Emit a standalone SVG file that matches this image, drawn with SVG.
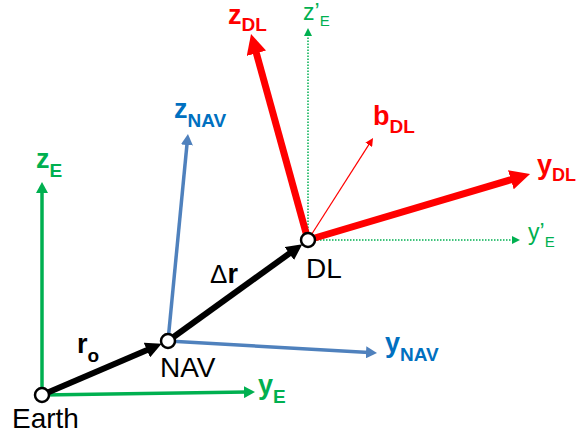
<svg xmlns="http://www.w3.org/2000/svg" width="578" height="438" viewBox="0 0 578 438">
<style>
text{font-family:"Liberation Sans",Arial,sans-serif}
.lbl{font-size:28px;fill:#000}
.b{font-weight:bold;font-size:27px}
.sub{font-weight:bold;font-size:19px}
.g{fill:#00B050}
.bl{fill:#0070C0}
.r{fill:#FF0000}
.axg{stroke:#00B050;stroke-width:3.5;fill:none}
.axb{stroke:#4F81BD;stroke-width:3.5;fill:none}
.axr{stroke:#FF0000;stroke-width:7;fill:none}
.thr{stroke:#FF0000;stroke-width:1.2;fill:none}
.dot{stroke:#00B050;stroke-width:1.5;stroke-dasharray:1.5 1.5;fill:none}
.vec{stroke:#000;stroke-width:6;fill:none}
.node{fill:#fff;stroke:#000;stroke-width:2.5}
</style>
<defs>
<marker id="mg" markerUnits="userSpaceOnUse" markerWidth="12" markerHeight="12" refX="3" refY="6" orient="auto"><path d="M0,0 L11,6 L0,12 z" fill="#00B050"/></marker>
<marker id="mb" markerUnits="userSpaceOnUse" markerWidth="12" markerHeight="12" refX="3" refY="6" orient="auto"><path d="M0,0 L11,6 L0,12 z" fill="#4F81BD"/></marker>
<marker id="mk" markerUnits="userSpaceOnUse" markerWidth="17" markerHeight="16" refX="6" refY="8" orient="auto"><path d="M0,0 L16,8 L0,16 z" fill="#000"/></marker>
<marker id="mr" markerUnits="userSpaceOnUse" markerWidth="21" markerHeight="20" refX="4" refY="10" orient="auto"><path d="M0,0 L20,10 L0,20 z" fill="#FF0000"/></marker>
<marker id="mrt" markerUnits="userSpaceOnUse" markerWidth="9" markerHeight="8" refX="2" refY="4" orient="auto"><path d="M0,0 L8,4 L0,8 z" fill="#FF0000"/></marker>
<marker id="mgd" markerUnits="userSpaceOnUse" markerWidth="9" markerHeight="8" refX="2" refY="4" orient="auto"><path d="M0,0 L8,4 L0,8 z" fill="#00B050"/></marker>
</defs>
<g id="connectors">
<path class="dot" d="M308,240 L308,34" marker-end="url(#mgd)"/>
<path class="dot" d="M308,240 L514,240" marker-end="url(#mgd)"/>
<path class="axg" d="M42,395 L42,190" marker-end="url(#mg)"/>
<path class="axg" d="M42,395 L247,392.1" marker-end="url(#mg)"/>
<path class="axb" d="M168,341 L187.2,142" marker-end="url(#mb)"/>
<path class="axb" d="M168,341 L369,352.5" marker-end="url(#mb)"/>
<path class="thr" d="M308,240 L369.8,143.1" marker-end="url(#mrt)"/>
<path class="axr" d="M308,240 L255.3,49.4" marker-end="url(#mr)"/>
<path class="axr" d="M308,240 L514.7,178.6" marker-end="url(#mr)"/>
<path class="vec" d="M42,395 L152.4,347.7" marker-end="url(#mk)"/>
<path class="vec" d="M168,341 L294.2,250" marker-end="url(#mk)"/>
</g>
<g id="earth"><circle class="node" cx="42" cy="395" r="7"/><text class="lbl" x="12" y="428">Earth</text></g>
<g id="nav"><circle class="node" cx="168" cy="341" r="7"/><text class="lbl" x="160" y="377">NAV</text></g>
<g id="dl"><circle class="node" cx="308" cy="240" r="7"/><text class="lbl" x="306" y="278">DL</text></g>
<g id="labels">
<text x="77" y="353"><tspan class="b">r</tspan><tspan class="sub" dy="9">o</tspan></text>
<text x="210" y="283"><tspan style="font-size:26px">Δ</tspan><tspan class="b">r</tspan></text>
<text class="g" x="36" y="168"><tspan class="b">z</tspan><tspan class="sub" dy="9">E</tspan></text>
<text class="g" x="258" y="394"><tspan class="b">y</tspan><tspan class="sub" dy="9">E</tspan></text>
<text class="bl" x="174" y="118"><tspan class="b">z</tspan><tspan class="sub" dy="9">NAV</tspan></text>
<text class="bl" x="385" y="352"><tspan class="b">y</tspan><tspan class="sub" dy="9">NAV</tspan></text>
<text class="r" x="228" y="24"><tspan class="b">z</tspan><tspan class="sub" dy="7">DL</tspan></text>
<text class="r" x="373" y="125"><tspan class="b">b</tspan><tspan class="sub" dy="8">DL</tspan></text>
<text class="r" x="537" y="174"><tspan class="b">y</tspan><tspan class="sub" style="font-size:18px" dy="7">DL</tspan></text>
<text class="g" x="303" y="20"><tspan style="font-size:23px">z’</tspan><tspan style="font-size:15px" dy="6">E</tspan></text>
<text class="g" x="528" y="240"><tspan style="font-size:23px">y’</tspan><tspan style="font-size:15px" dy="7">E</tspan></text>
</g>
</svg>
